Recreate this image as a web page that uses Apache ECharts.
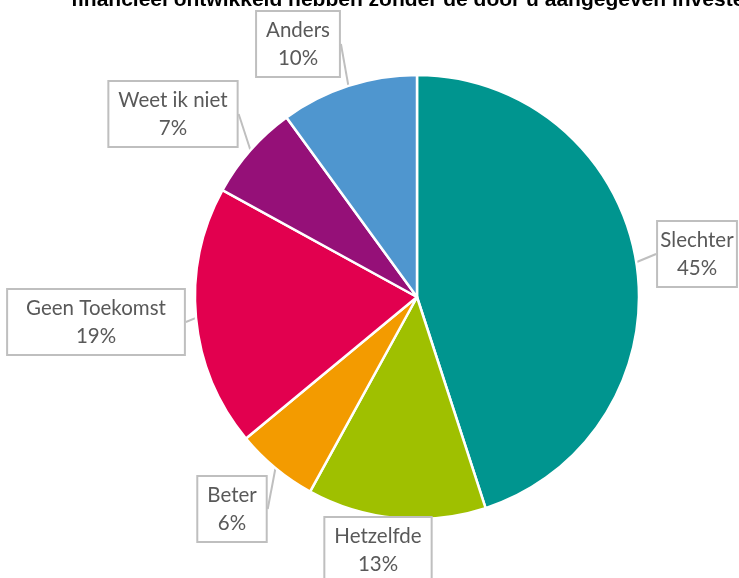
<!DOCTYPE html>
<html>
<head>
<meta charset="utf-8">
<script src="https://cdn.jsdelivr.net/npm/echarts@6/dist/echarts.min.js"></script>
<style>
  html, body { margin: 0; padding: 0; background: #fff; }
  #chart { width: 739px; height: 578px; }
</style>
</head>
<body>
<div id="chart"></div>
<script>
const categories = ['Slechter', 'Hetzelfde', 'Beter', 'Geen Toekomst', 'Weet ik niet', 'Anders']
const values = [45, 13, 6, 19, 7, 10]

const titleText = 'financieel ontwikkeld hebben zonder de door u aangegeven investeringen?'

// where each callout box sits (label centres)
const labelSpots = [
    [697, 254],
    [378, 550],
    [232, 509],
    [96, 322],
    [173, 114],
    [298, 44]
]

const chart = echarts.init(document.getElementById('chart'))

const option = {
    animation: false,
    color: ['#00958f', '#9fc000', '#f39b00', '#e2004f', '#951078', '#4f96cf'],
    title: {
        text: titleText,
        left: 66,
        top: -15,
        textStyle: {
            fontFamily: 'Liberation Sans',
            fontSize: 21,
            fontWeight: 'bold',
            color: '#000'
        }
    },
    series: [
        {
            type: 'pie',
            center: [417, 297],
            radius: 222,
            startAngle: 90,
            clockwise: true,
            data: categories.map((name, i) => ({ name, value: values[i] })),
            itemStyle: {
                borderColor: '#fff',
                borderWidth: 2.5
            },
            label: {
                show: true,
                formatter: '{b}\n{c}%',
                fontFamily: 'Lato',
                fontSize: 20.5,
                lineHeight: 28,
                color: '#595959',
                backgroundColor: '#fff',
                borderColor: '#bfbfbf',
                borderWidth: 2,
                padding: [5, 9, 3, 9],
                align: 'center',
                overflow: 'none'
            },
            labelLine: {
                show: true,
                length: 10,
                length2: 0,
                lineStyle: { color: '#bfbfbf', width: 2 }
            },
            labelLayout: (params) => {
                const spot = labelSpots[params.dataIndex]
                return {
                    x: spot[0],
                    y: spot[1],
                    align: 'center',
                    verticalAlign: 'middle'
                }
            }
        }
    ]
}

chart.setOption(option)
</script>
</body>
</html>
